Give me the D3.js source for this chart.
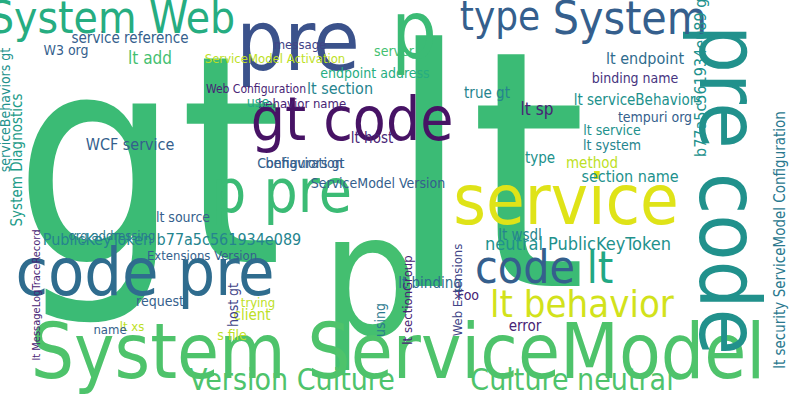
<!DOCTYPE html>
<meta charset="utf-8">
<style>
  body { margin: 0; padding: 0; background: #fff; }
  svg text { font-family: "DejaVu Sans Condensed", "DejaVu Sans"; }
</style>
<body>
<script src="https://d3js.org/d3.v7.min.js"></script>
<script>
// words: text, font size, centre x, baseline y, rotate, viridis tone
var words  = ["gt","lt","p","System ServiceModel","pre code","gt code","code pre","service","p pre","pre","System Web","type","System",
  "Version Culture","Culture neutral","code","lt","lt behavior","neutral PublicKeyToken","PublicKeyToken b77a5c561934e089",
  "ServiceModel Version","lt add","service reference","W3 org","message","ServiceModel Activation","endpoint address",
  "Web Configuration","lt section","behavior name","true gt","binding name","lt endpoint","lt serviceBehaviors","tempuri org",
  "lt sp","lt service","lt system","section name","lt host","WCF service","Configuration","lt source","Extensions Version",
  "request","lt xs","client","name","error","Foo","method","server","use","behaviors gt","lt binding","lt wsdl","type",
  "b77a5c561934e089 gt","System Diagnostics","serviceBehaviors gt","lt security ServiceModel Configuration","host gt",
  "trying","using","lt sectionGroup","Web Extensions","s file","org addressing","lt MessageLogTraceRecord","p"];
var sizes  = [290,330,170,76,84,60,66,70,60,84,44,40,46,30,30,46,44,38,18,16,14,17,15,14,13,13,14,12,16,13,15,14,16,15,14,
  17,14,14,16,15,16,14,14,13,14,13,15,13,15,14,15,14,14,14,15,15,15,16,15,14,15,14,13,14,13,13,14,13,11,80];
var xs     = [148,487,370,398,700,352,145,566,282,298,112,500,630,292,572,525,600,582,578,172,378,150,130,66,300,275,375,
  256,340,302,487,635,645,638,655,537,612,612,630,372,130,300,183,202,160,132,252,110,525,468,592,394,258,305,430,520,540,
  706,22,10,785,238,258,385,412,462,232,112,40,414];
var ys     = [262,286,335,378,190,140,295,224,212,70,33,30,34,390,390,283,283,317,250,245,188,64,43,55,49,63,78,93,94,108,
  98,83,64,105,122,115,135,150,182,143,150,168,222,260,306,331,320,334,331,300,168,56,107,168,288,240,163,75,160,110,240,305,
  307,320,300,290,340,240,295,58];
var rots   = [0,0,0,0,90,0,0,0,0,0,0,0,0,0,0,0,0,0,0,0,0,0,0,0,0,0,0,0,0,0,0,0,0,0,0,0,0,0,0,0,0,0,0,0,0,0,0,0,0,0,0,0,0,0,
  0,0,0,-90,-90,-90,-90,-90,0,-90,-90,-90,0,0,-90,0];
var tones  = [0.68,0.68,0.7,0.72,0.5,0.05,0.35,0.95,0.68,0.25,0.62,0.3,0.3,0.72,0.72,0.3,0.6,0.93,0.5,0.45,0.3,0.7,0.3,0.3,
  0.2,0.9,0.62,0.1,0.45,0.1,0.45,0.15,0.35,0.5,0.3,0.1,0.5,0.45,0.5,0.1,0.3,0.3,0.3,0.3,0.3,0.9,0.9,0.3,0.1,0.1,0.9,0.7,
  0.6,0.3,0.35,0.45,0.5,0.5,0.55,0.5,0.4,0.2,0.9,0.4,0.1,0.2,0.9,0.4,0.1,0.68];

var width = 800, height = 400;
var x = d3.scaleLinear().domain([0, 800]).range([0, width]);
var y = d3.scaleLinear().domain([0, 400]).range([0, height]);
var color = function(t) { return d3.interpolateViridis(t); };

var svg = d3.select("body").append("svg")
    .attr("width", width)
    .attr("height", height);

svg.selectAll("text")
    .data(words)
  .enter().append("text")
    .attr("text-anchor", "middle")
    .attr("transform", function(d, i) {
      return "translate(" + x(xs[i]) + "," + y(ys[i]) + ") rotate(" + rots[i] + ")";
    })
    .style("font-size", function(d, i) { return sizes[i] + "px"; })
    .style("fill", function(d, i) { return color(tones[i]); })
    .text(function(d) { return d; });
</script>
